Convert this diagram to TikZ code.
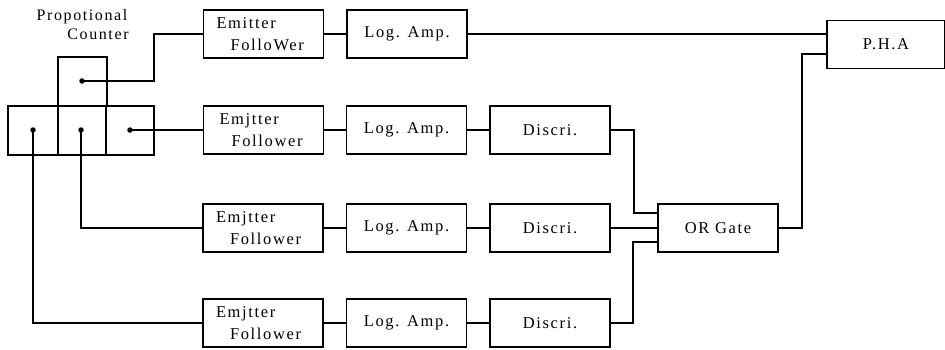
\documentclass[tikz,border=0pt]{standalone}
\usepackage{fontspec}
\setmainfont{Liberation Serif}[LetterSpace=10]
\begin{document}
\begin{tikzpicture}[x=1pt,y=-1pt,line width=1.2pt,
  blk/.style={draw,minimum width=120pt,minimum height=48pt,inner sep=0pt,font=\fontsize{16.5}{22}\selectfont},
  efb/.style={blk,align=left,text width=94pt},
  dotn/.style={circle,fill,inner sep=0pt,minimum size=5.5pt},
  lbl/.style={font=\fontsize{16}{20}\selectfont,align=center}]
\useasboundingbox (0,0) rectangle (945,349);
% counter
\draw (8,106) rectangle (154,155);
\draw (58,106) -- (58,155) (106,106) -- (106,155);
\draw (58,106) -- (58,57) -- (107,57) -- (107,106);
\node[dotn] (d0) at (82,81) {};
\node[dotn] (d1) at (33,130) {};
\node[dotn] (d2) at (81,130) {};
\node[dotn] (d3) at (130,130) {};
\node[lbl] (cl) at (82,25) {Propotional\\[-1pt]\hspace{2em}Counter};
% blocks
\node[efb] (ef1) at (263.5,34) {Emitter\\\hspace{14pt}FolloWer};
\node[blk] (la1) at (407,34) {Log. Amp.};
\node[blk,minimum width=118pt] (pha) at (886,44.5) {P.H.A};
\node[efb] (ef2) at (263.5,130) {\hspace{3pt}Emjtter\\\hspace{15pt}Follower};
\node[blk] (la2) at (406.5,130) {Log. Amp.};
\node[blk] (di2) at (550,130) {Discri.};
\node[efb] (ef3) at (263,228) {Emjtter\\\hspace{14pt}Follower};
\node[blk] (la3) at (406.5,228) {Log. Amp.};
\node[blk] (di3) at (550,228) {Discri.};
\node[efb] (ef4) at (263,323) {Emjtter\\\hspace{14pt}Follower};
\node[blk] (la4) at (406.5,323) {Log. Amp.};
\node[blk] (di4) at (550,323) {Discri.};
\node[blk] (or) at (718,228) {OR Gate};
% connectors
\draw (d0.center) -- (154,81) -- (154,34) -- (ef1.west);
\draw (ef1) -- (la1);
\draw (la1.east) -- (pha.west |- la1.east);
\draw (d3.center) -- (ef2.west);
\draw (d2.center) -- (d2.center |- ef3.west) -- (ef3.west);
\draw (d1.center) -- (d1.center |- ef4.west) -- (ef4.west);
\draw (ef2) -- (la2); \draw (la2) -- (di2);
\draw (ef3) -- (la3); \draw (la3) -- (di3);
\draw (ef4) -- (la4); \draw (la4) -- (di4);
\draw (di2.east) -- (634,130) -- (634,213) -- (or.west |- 0,213);
\draw (di3.east) -- (or.west);
\draw (di4.east) -- (633,323) -- (633,242) -- (or.west |- 0,242);
\draw (or.east) -- (802,228) -- (802,54) -- (pha.west |- 0,54);
\end{tikzpicture}
\end{document}
